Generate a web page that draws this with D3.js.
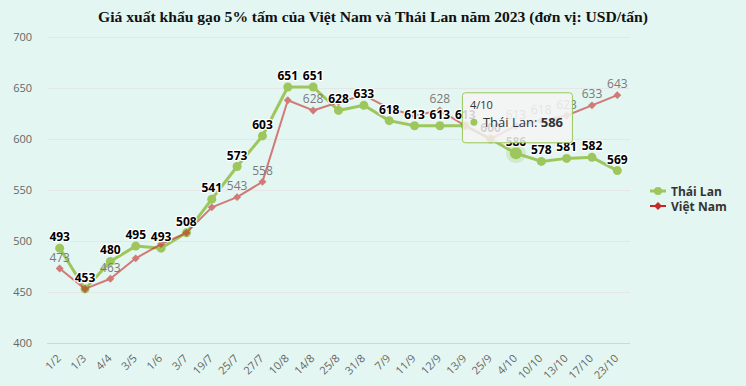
<!DOCTYPE html>
<html>
<head>
<meta charset="utf-8">
<script src="https://cdn.jsdelivr.net/npm/d3@7"></script>
<style>
  html, body { margin: 0; padding: 0; background: #e3f6f1; }
  svg { display: block; }
</style>
</head>
<body>
<svg id="chart" width="746" height="386"></svg>
<script>
const title = "Giá xuất khẩu gạo 5% tấm của Việt Nam và Thái Lan năm 2023 (đơn vị: USD/tấn)";
const categories = ["1/2","1/3","4/4","3/5","1/6","3/7","19/7","25/7","27/7","10/8","14/8","25/8","31/8","7/9","11/9","12/9","13/9","25/9","4/10","10/10","13/10","17/10","23/10"];
const thaiLan = [493,453,480,495,493,508,541,573,603,651,651,628,633,618,613,613,613,600,586,578,581,582,569];
const vietNam = [473,453,463,483,497,508,533,543,558,638,628,636,643,630,623,628,613,600,613,618,623,633,643];
const yTicks = [400,450,500,550,600,650,700];
const seriesNames = ["Thái Lan","Việt Nam"];
const hoverIndex = 18; // tooltip shown on "4/10" of Thái Lan

const W = 746, H = 386;
const plot = {left: 47, right: 630, top: 37, bottom: 343};
const font = "'Open Sans', 'DejaVu Sans', sans-serif";
const green = "#9dc75c", red = "#c62828";

const svg = d3.select("#chart");
svg.append("rect").attr("width", W).attr("height", H).attr("fill", "#e3f6f1");

const x = d3.scalePoint().domain(categories).range([plot.left, plot.right]).padding(0.5);
const y = d3.scaleLinear().domain([400, 700]).range([plot.bottom, plot.top]);

// Title
svg.append("text").attr("x", 373).attr("y", 22).attr("text-anchor", "middle")
  .attr("font-family", "'Liberation Serif', 'Times New Roman', serif")
  .attr("font-weight", "bold").attr("font-size", 15.6).attr("fill", "#111")
  .text(title);

// Grid
const grid = svg.append("g");
grid.selectAll("line").data(yTicks).join("line")
  .attr("x1", plot.left).attr("x2", plot.right)
  .attr("y1", d => Math.round(y(d)) + 0.5).attr("y2", d => Math.round(y(d)) + 0.5)
  .attr("stroke", d => d === 400 ? "#ccd6eb" : "#e6e6e6").attr("stroke-width", 1);

// Y axis labels
svg.append("g").selectAll("text").data(yTicks).join("text")
  .attr("x", 32).attr("y", d => y(d) + 4).attr("text-anchor", "end")
  .attr("font-family", font).attr("font-size", 11).attr("fill", "#666")
  .text(d => d);

// X axis labels
svg.append("g").selectAll("text").data(categories).join("text")
  .attr("transform", d => `translate(${x(d) + 2},${359}) rotate(-45)`)
  .attr("text-anchor", "end")
  .attr("font-family", font).attr("font-size", 11).attr("fill", "#666")
  .text(d => d);

const line = d3.line().x((d, i) => x(categories[i])).y(d => y(d));

// Thái Lan series
const gT = svg.append("g");
gT.append("path").datum(thaiLan).attr("d", line).attr("fill", "none")
  .attr("stroke", green).attr("stroke-width", 3).attr("stroke-linejoin", "round");
// halo
gT.append("circle").attr("cx", x(categories[hoverIndex])).attr("cy", y(thaiLan[hoverIndex]))
  .attr("r", 10).attr("fill", green).attr("opacity", 0.25);
gT.selectAll("circle.m").data(thaiLan).join("circle").attr("class", "m")
  .attr("cx", (d, i) => x(categories[i])).attr("cy", d => y(d))
  .attr("r", (d, i) => i === hoverIndex ? 6 : 4.5).attr("fill", green);

// Việt Nam series (inactive / faded)
const gV = svg.append("g").attr("opacity", 0.6);
gV.append("path").datum(vietNam).attr("d", line).attr("fill", "none")
  .attr("stroke", red).attr("stroke-width", 2).attr("stroke-linejoin", "round");
const diamond = d3.symbol().type(d3.symbolDiamond2 || d3.symbolDiamond).size(40);
gV.selectAll("path.m").data(vietNam).join("path").attr("class", "m")
  .attr("transform", (d, i) => `translate(${x(categories[i])},${y(d)})`)
  .attr("d", diamond).attr("fill", red);

// Data labels with overlap hiding (Thái Lan first)
const labelsG = svg.append("g");
const placed = [];
function addLabels(values, style) {
  values.forEach((v, i) => {
    const px = x(categories[i]), py = y(v);
    const t = labelsG.append("text").attr("x", px).attr("y", py - 7)
      .attr("text-anchor", "middle").attr("font-family", font).attr("font-size", 12)
      .text(v);
    style(t);
    const w = t.node().getComputedTextLength();
    const box = {x0: px - w / 2 - 1, x1: px + w / 2 + 1, y0: py - 11.5 - 7, y1: py - 11.5 + 7};
    const hit = placed.some(b => !(box.x1 <= b.x0 || box.x0 >= b.x1 || box.y1 <= b.y0 || box.y0 >= b.y1));
    if (hit) t.remove(); else placed.push(box);
  });
}
addLabels(thaiLan, t => t.attr("font-weight", "bold").attr("fill", "#000")
  .attr("stroke", "#fff").attr("stroke-width", 2.5).attr("stroke-linejoin", "round")
  .attr("paint-order", "stroke"));
addLabels(vietNam, t => t.attr("fill", "#7a7a7a"));

// Legend
const legend = svg.append("g");
[[seriesNames[0], green, "circle"], [seriesNames[1], red, "diamond"]].forEach((s, k) => {
  const cy = 191 + k * 15;
  legend.append("line").attr("x1", 650).attr("x2", 666).attr("y1", cy).attr("y2", cy)
    .attr("stroke", s[1]).attr("stroke-width", k === 0 ? 3 : 2);
  if (s[2] === "circle") legend.append("circle").attr("cx", 658).attr("cy", cy).attr("r", 4).attr("fill", s[1]);
  else legend.append("path").attr("transform", `translate(658,${cy})`).attr("d", diamond).attr("fill", s[1]);
  legend.append("text").attr("x", 671).attr("y", cy + 4.5).attr("font-family", font)
    .attr("font-size", 12).attr("font-weight", "bold").attr("fill", "#333").text(s[0]);
});

// Tooltip
const tpx = x(categories[hoverIndex]), tpy = y(thaiLan[hoverIndex]);
const tip = svg.append("g").attr("transform", `translate(${tpx - 54},${tpy - 61})`);
tip.append("rect").attr("x", 1).attr("y", 1).attr("width", 110).attr("height", 50).attr("rx", 3)
  .attr("fill", "#000").attr("opacity", 0.06);
tip.append("rect").attr("x", 0.5).attr("y", 0.5).attr("width", 110).attr("height", 50).attr("rx", 3)
  .attr("fill", "rgba(247,247,247,0.85)").attr("stroke", green).attr("stroke-width", 1);
tip.append("text").attr("x", 8).attr("y", 17).attr("font-family", font).attr("font-size", 11)
  .attr("fill", "#333").text(categories[hoverIndex]);
tip.append("circle").attr("cx", 12).attr("cy", 30).attr("r", 3.5).attr("fill", green);
const tl = tip.append("text").attr("x", 21).attr("y", 34.5).attr("font-family", font)
  .attr("font-size", 13).attr("fill", "#333");
tl.append("tspan").text(seriesNames[0] + ": ");
tl.append("tspan").attr("font-weight", "bold").text(thaiLan[hoverIndex]);
</script>
</body>
</html>
